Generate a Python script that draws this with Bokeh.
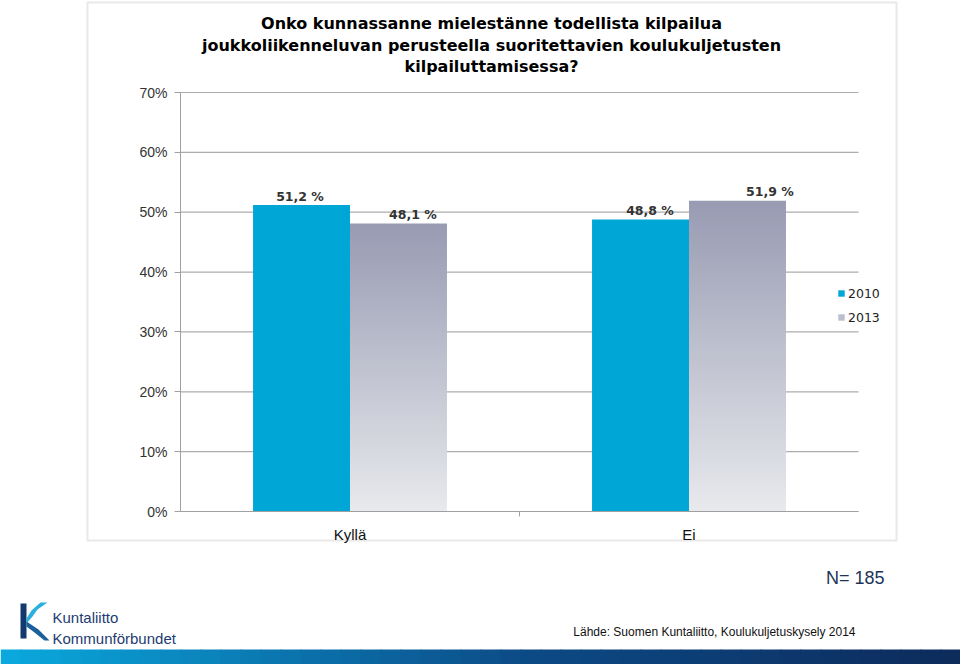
from bokeh.plotting import figure
from bokeh.models import (ColumnDataSource, Range1d, FixedTicker, NumeralTickFormatter,
                          Legend, LegendItem, Label, BoxAnnotation, PolyAnnotation)
from bokeh.core.properties import value
from bokeh.embed import file_html
from bokeh.resources import INLINE

# ---------------- data ----------------
categories = ["Kyllä", "Ei"]
series_names = ["2010", "2013"]
values_2010 = [51.2, 48.8]
values_2013 = [48.1, 51.9]
y_tick_values = [0, 10, 20, 30, 40, 50, 60, 70]
title_lines = ["Onko kunnassanne mielestänne todellista kilpailua",
               "joukkoliikenneluvan perusteella suoritettavien koulukuljetusten",
               "kilpailuttamisessa?"]
n_label = "N= 185"
source_label = "Lähde: Suomen Kuntaliitto, Koulukuljetuskysely 2014"
logo_lines = ["Kuntaliitto", "Kommunförbundet"]

# ---------------- layout / style ----------------
W, H = 960, 664
FL, FR, FT, FB = 180, 858, 92, 511          # plot area on the canvas (px)
BAR_W = 0.286
COLOR_2010 = "#00a6d6"
GRAD_TOP = (0x97, 0x9b, 0xb2)
GRAD_BOT = (0xe8, 0xe9, 0xed)
GRID_COLOR = "#adadad"
AXIS_COLOR = "#a0a0a0"
label_nudge = {"2010": [-1.5, 9.5], "2013": [14.5, 32.5]}

n_cat = len(categories)
y_max = max(y_tick_values) / 100
x_unit = (FR - FL) / n_cat
y_unit = (FB - FT) / y_max


def sx(x):
    return x


def sy(y):
    return H - y


def hexc(rgb):
    return "#%02x%02x%02x" % tuple(int(round(c)) for c in rgb)


def lerp(a, b, t):
    return tuple(a[i] + (b[i] - a[i]) * t for i in range(3))


p = figure(width=W, height=H, output_backend="svg", toolbar_location=None,
           x_range=Range1d(-FL / x_unit, (W - FL) / x_unit),
           y_range=Range1d(-(H - FB) / y_unit, y_max + FT / y_unit),
           min_border=0, min_border_left=0, min_border_right=0,
           min_border_top=0, min_border_bottom=0,
           background_fill_color="white", border_fill_color="white",
           outline_line_color=None)
p.xgrid.visible = False
p.ygrid.visible = False

# grid lines limited to plot area
tick_fracs = [t / 100 for t in y_tick_values]
p.segment(x0=0, x1=n_cat, y0=tick_fracs, y1=tick_fracs,
          line_color=GRID_COLOR, line_width=1.2)

# y axis
yax = p.yaxis[0]
yax.fixed_location = 0
yax.bounds = (0, y_max)
yax.ticker = FixedTicker(ticks=tick_fracs)
yax.formatter = NumeralTickFormatter(format="0%")
yax.axis_line_color = AXIS_COLOR
yax.major_tick_line_color = AXIS_COLOR
yax.major_tick_out = 6
yax.major_tick_in = 0
yax.minor_tick_line_color = None
yax.major_label_standoff = 7
yax.major_label_text_font = "Liberation Sans"
yax.major_label_text_font_size = "14px"
yax.major_label_text_color = "#333333"

# x axis
centers = [i + 0.5 for i in range(n_cat)]
xax = p.xaxis[0]
xax.fixed_location = 0
xax.bounds = (0, n_cat)
xax.ticker = FixedTicker(ticks=centers, minor_ticks=list(range(1, n_cat)))
overrides = {}
for c, name in zip(centers, categories):
    overrides[c] = name
    overrides[str(c)] = name
xax.major_label_overrides = overrides
xax.axis_line_color = AXIS_COLOR
xax.major_tick_line_color = None
xax.major_tick_out = 0
xax.major_tick_in = 0
xax.minor_tick_line_color = AXIS_COLOR
xax.minor_tick_out = 5
xax.minor_tick_in = 0
xax.major_label_standoff = 9
xax.major_label_text_font = "Liberation Sans"
xax.major_label_text_font_size = "15px"
xax.major_label_text_color = "#111111"

# 2010 bars
x2010 = [c - BAR_W / 2 for c in centers]
x2013 = [c + BAR_W / 2 for c in centers]
src2010 = ColumnDataSource(dict(x=x2010, top=[v / 100 for v in values_2010]))
r2010 = p.vbar(x="x", top="top", bottom=0, width=BAR_W, source=src2010,
               fill_color=COLOR_2010, line_color=None)

# 2013 bars with vertical gradient (stacked thin slices)
NS = 80
gx, gb, gt, gc = [], [], [], []
for x, v in zip(x2013, values_2013):
    top = v / 100
    for k in range(NS):
        gx.append(x)
        gb.append(top * k / NS)
        gt.append(min(top, top * (k + 1.6) / NS))
        gc.append(hexc(lerp(GRAD_BOT, GRAD_TOP, (k + 0.5) / NS)))
src2013 = ColumnDataSource(dict(x=gx, bottom=gb, top=gt, color=gc))
r2013 = p.vbar(x="x", top="top", bottom="bottom", width=BAR_W, source=src2013,
               fill_color="color", line_color=None)

# value labels
lx, ly, lt, lo = [], [], [], []
for name, xs, vals in (("2010", x2010, values_2010), ("2013", x2013, values_2013)):
    for i, (x, v) in enumerate(zip(xs, vals)):
        lx.append(x)
        ly.append(v / 100)
        lt.append(("%.1f %%" % v).replace(".", ","))
        lo.append(label_nudge[name][i])
lsrc = ColumnDataSource(dict(x=lx, y=ly, text=lt, xo=lo))
p.text(x="x", y="y", text="text", x_offset="xo", y_offset=-9, source=lsrc,
       text_align="center", text_baseline="alphabetic",
       text_font=value("DejaVu Sans"), text_font_style="bold",
       text_font_size="12.5px", text_color="#333333")

# legend
legend = Legend(items=[LegendItem(label=series_names[0], renderers=[r2010]),
                       LegendItem(label=series_names[1], renderers=[r2013], index=int(NS * 0.55))],
                location=(sx(837), sy(325)), orientation="vertical",
                glyph_width=8, glyph_height=8, label_standoff=3,
                label_height=16, spacing=8, padding=0, margin=0,
                border_line_color=None, background_fill_alpha=0,
                label_text_font="DejaVu Sans", label_text_font_size="12.5px",
                label_text_color="#222222")
p.add_layout(legend)

# outer chart box
p.add_layout(BoxAnnotation(left=sx(87), right=sx(896), top=sy(2), bottom=sy(540),
                           left_units="screen", right_units="screen",
                           top_units="screen", bottom_units="screen",
                           fill_alpha=0, line_color="#b5b5b5", line_width=2,
                           level="underlay"))

# title
for line, base in zip(title_lines, [23, 44.5, 66]):
    p.add_layout(Label(x=sx(491), y=sy(base), x_units="screen", y_units="screen",
                       text=line, text_align="center", text_baseline="alphabetic",
                       text_font="DejaVu Sans", text_font_style="bold",
                       text_font_size="16px", text_color="#000000"))

# N label
p.add_layout(Label(x=sx(884), y=sy(577), x_units="screen", y_units="screen",
                   text=n_label, text_align="right", text_baseline="alphabetic",
                   text_font="Liberation Sans", text_font_size="18px",
                   text_color="#1c3557"))

# source
p.add_layout(Label(x=sx(855), y=sy(631), x_units="screen", y_units="screen",
                   text=source_label, text_align="right", text_baseline="alphabetic",
                   text_font="Liberation Sans", text_font_size="12px",
                   text_color="#111111"))

# logo
p.add_layout(BoxAnnotation(left=sx(20), right=sx(26), top=sy(603), bottom=sy(638),
                           left_units="screen", right_units="screen",
                           top_units="screen", bottom_units="screen",
                           fill_color="#123a6e", fill_alpha=1, line_color=None))
p.add_layout(PolyAnnotation(xs=[sx(v) for v in [47, 40, 31, 26, 26, 32, 37]],
                            ys=[sy(v) for v in [602, 602, 610, 618, 623, 616, 609]],
                            xs_units="screen", ys_units="screen",
                            fill_color="#2ab0e0", fill_alpha=1, line_color=None))
p.add_layout(PolyAnnotation(xs=[sx(v) for v in [26, 26, 34, 44, 49, 38]],
                            ys=[sy(v) for v in [621, 626, 632, 640, 640, 629]],
                            xs_units="screen", ys_units="screen",
                            fill_color="#1b5f9c", fill_alpha=1, line_color=None))
for line, base in zip(logo_lines, [617, 638]):
    p.add_layout(Label(x=sx(52), y=sy(base), x_units="screen", y_units="screen",
                       text=line, text_align="left", text_baseline="alphabetic",
                       text_font="Liberation Sans", text_font_size="15px",
                       text_color="#1d3c72"))

# bottom band gradient
stops = [(0.0, (0x0a, 0xaa, 0xde)), (0.3, (0x0b, 0x74, 0xae)),
         (0.55, (0x0c, 0x4a, 0x86)), (1.0, (0x0d, 0x2b, 0x5b))]


def band_color(t):
    for (t0, c0), (t1, c1) in zip(stops[:-1], stops[1:]):
        if t <= t1:
            return hexc(lerp(c0, c1, (t - t0) / (t1 - t0)))
    return hexc(stops[-1][1])


NB = 48
seg = W / NB
for i in range(NB):
    p.add_layout(BoxAnnotation(left=sx(i * seg), right=sx((i + 1) * seg + 1),
                               top=sy(649), bottom=sy(H + 2),
                               left_units="screen", right_units="screen",
                               top_units="screen", bottom_units="screen",
                               fill_color=band_color((i + 0.5) / NB), fill_alpha=1,
                               line_color=None))

open("out.html", "w").write(file_html(p, INLINE))
